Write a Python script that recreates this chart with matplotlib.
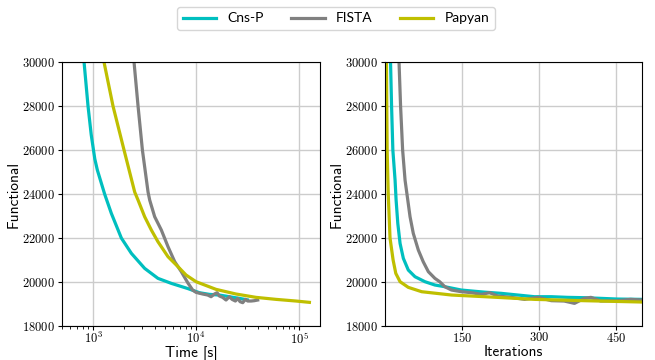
import matplotlib
matplotlib.use("Agg")
import matplotlib.pyplot as plt

plt.rcParams['font.family'] = 'cmr10'
plt.rcParams['mathtext.fontset'] = 'cm'
plt.rcParams['axes.formatter.use_mathtext'] = True

# left panel: functional vs wall-clock time [s]
cns_t = [818, 894, 960, 1040, 1100, 1296, 1506, 1883, 2357, 3170, 4267,
         5754, 8360, 10770, 13460, 16830, 21050, 26300, 31500]
cns_f = [30000, 28000, 26700, 25600, 25100, 24000, 23121, 22000, 21303,
         20621, 20167, 19939, 19700, 19515, 19439, 19409, 19333, 19258, 19190]

fista_t = [2500, 2735, 3015, 3420, 3548, 3966, 4603, 5344, 6208, 7195, 8300, 9270,
           10000, 11600, 12970, 13990, 15080, 16000, 16830, 18130, 19540, 21050,
           22370, 24100, 25370, 26750, 28380, 30130, 31720, 34170, 36810, 39650]
fista_f = [30000, 28000, 26000, 24091, 23727, 22970, 22364, 21606, 20924, 20470,
           19970, 19636, 19530, 19455, 19409, 19333, 19455, 19515, 19364, 19303,
           19182, 19333, 19212, 19136, 19258, 19106, 19061, 19212, 19136, 19136,
           19152, 19182]

pap_t = [1278, 1563, 2000, 2538, 2735, 3170, 3682, 4267, 5344, 6682, 8000, 10000,
         15630, 24430, 38190, 59700, 93500, 126000]
pap_f = [30000, 28000, 26000, 24091, 23727, 22970, 22364, 21833, 21151, 20697,
         20318, 20015, 19667, 19455, 19303, 19212, 19136, 19076]

# right panel: functional vs iterations
cns_it = [11.5, 13.5, 16, 20.3, 22.3, 25.6, 30, 36.4, 46, 59, 78.4, 97.7, 117,
          149, 175, 194.5, 227, 259, 291, 323.6, 356, 388, 420, 452, 500]
cns_fi = [30000, 28000, 26000, 24636, 23727, 22667, 21758, 21076, 20545, 20242,
          20015, 19864, 19788, 19636, 19580, 19540, 19485, 19409, 19333, 19333,
          19303, 19288, 19258, 19227, 19212]

fista_it = [28, 31, 35, 39.7, 45, 49.4, 55.7, 65.5, 75, 85, 97.7, 107, 117, 130,
            149, 169, 188, 204, 220, 246, 272, 298, 324, 349, 369, 388, 401, 420,
            453, 478, 500]
fista_fi = [30000, 28000, 26000, 24636, 23727, 22970, 22212, 21454, 20924, 20470,
            20167, 20015, 19788, 19636, 19560, 19515, 19440, 19515, 19364, 19303,
            19212, 19303, 19152, 19136, 19030, 19258, 19303, 19136, 19152, 19212,
            19182]

pap_it = [3.5, 4.9, 7, 10.5, 16.5, 21.7, 30, 46, 72, 130, 194.5, 291, 388, 500]
pap_fi = [30000, 26000, 24000, 22000, 21000, 20394, 20015, 19758, 19560, 19409,
          19333, 19212, 19152, 19091]

names = ['Cns-P', 'FISTA', 'Papyan']
colors = ['c', 'gray', 'y']

fig = plt.figure(figsize=(6.55, 3.6), dpi=100)
ax1 = fig.add_axes([0.0947, 0.0944, 0.394, 0.733])
ax2 = fig.add_axes([0.588, 0.0944, 0.392, 0.733])

lw = 2.3
h = []
for t, f, c, n in zip([cns_t, fista_t, pap_t], [cns_f, fista_f, pap_f], colors, names):
    line, = ax1.plot(t, f, color=c, lw=lw, label=n)
    h.append(line)
for t, f, c in zip([cns_it, fista_it, pap_it], [cns_fi, fista_fi, pap_fi], colors):
    ax2.plot(t, f, color=c, lw=lw)

ax1.set_xscale('log')
ax1.set_xlim(500, 1.6e5)
ax2.set_xlim(1, 500)
ax2.set_xticks([150, 300, 450])

for ax in (ax1, ax2):
    ax.set_ylim(18000, 30000)
    ax.set_yticks([18000, 20000, 22000, 24000, 26000, 28000, 30000])
    ax.grid(True, which='major', color='#cccccc', lw=1)
    ax.set_axisbelow(True)
    ax.tick_params(labelsize=9, length=3, pad=2)
    ax.tick_params(axis='x', pad=0.5)
    ax.set_ylabel('Functional', family='cmss10', fontsize=11, labelpad=1)
ax1.tick_params(which='minor', length=2)

ax1.set_xlabel('Time [s]', family='cmss10', fontsize=11, labelpad=0)
ax2.set_xlabel('Iterations', family='cmss10', fontsize=11, labelpad=0)
ax1.xaxis.set_label_coords(0.5, -0.074)
ax2.xaxis.set_label_coords(0.5, -0.072)

fig.legend(handles=h, loc='upper center', bbox_to_anchor=(0.513, 1.0), ncol=3,
           prop={'family': 'Lato', 'size': 10}, handlelength=2.4,
           columnspacing=2.0, edgecolor='#cccccc', fancybox=True)

fig.savefig('out.png', dpi=100)
